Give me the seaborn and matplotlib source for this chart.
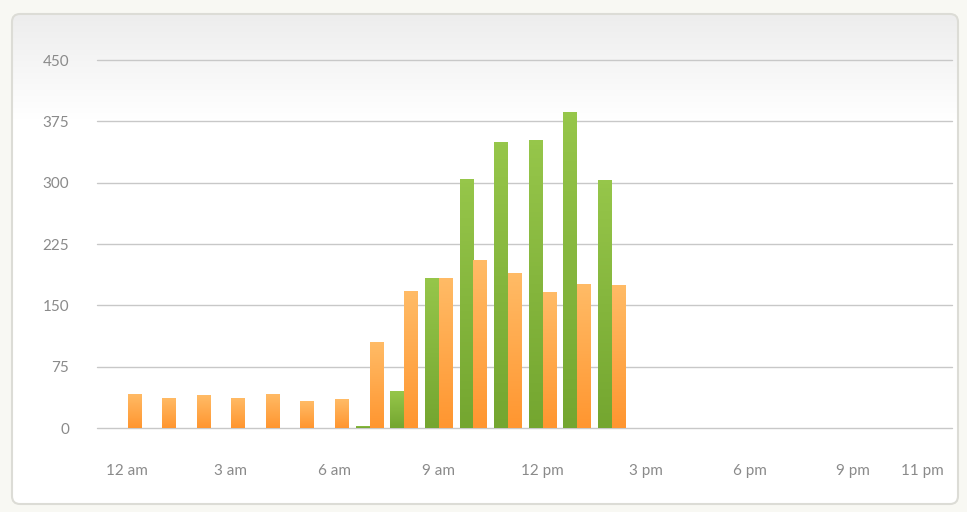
import numpy as np
import pandas as pd
import seaborn as sns
import matplotlib.pyplot as plt
from matplotlib.colors import LinearSegmentedColormap, to_hex
from matplotlib.patches import FancyBboxPatch

hours = list(range(24))
tick_hours = [0, 3, 6, 9, 12, 15, 18, 21, 23]
tick_labels = ["12 am", "3 am", "6 am", "9 am", "12 pm", "3 pm", "6 pm", "9 pm", "11 pm"]
green_vals = [0, 0, 0, 0, 0, 0, 0, 3, 45, 184, 304, 350, 352, 386, 303,
              0, 0, 0, 0, 0, 0, 0, 0, 0]
orange_vals = [42, 37, 40, 37, 42, 33, 35, 105, 168, 184, 205, 190, 166, 176, 175,
               0, 0, 0, 0, 0, 0, 0, 0, 0]
series = ["today", "average"]

df = pd.DataFrame({
    "hour": hours * 2,
    "value": green_vals + orange_vals,
    "series": [series[0]] * 24 + [series[1]] * 24,
})

sns.set_style("white")
plt.rcParams['font.family'] = ['Lato', 'DejaVu Sans']

fig = plt.figure(figsize=(9.67, 5.12), dpi=100, facecolor='#f8f8f3')

# card background, soft gray fading down from the top
bg = fig.add_axes([0, 0, 1, 1], zorder=-5)
bg.set_xlim(0, 967)
bg.set_ylim(512, 0)
bg.axis('off')
card = FancyBboxPatch((12, 14), 946, 490, boxstyle="round,pad=0,rounding_size=8",
                      facecolor='white', edgecolor='none')
bg.add_patch(card)
grad = np.linspace(0, 1, 100).reshape(-1, 1)
img = bg.imshow(grad, extent=(12, 958, 120, 14),
                cmap=LinearSegmentedColormap.from_list("g", ["#ededed", "#ffffff"]),
                aspect='auto', zorder=1)
img.set_clip_path(card)
bg.add_patch(FancyBboxPatch((12, 14), 946, 490, boxstyle="round,pad=0,rounding_size=8",
                            facecolor='none', edgecolor='#dcdcd6', linewidth=1.5, zorder=2))

ax = fig.add_axes([97 / 967, 84 / 512, 855 / 967, 368 / 512])
ax.patch.set_alpha(0)
green = "#86b83a"
orange = "#ffa640"
sns.barplot(data=df, x="hour", y="value", hue="series", order=hours,
            hue_order=series, palette=[green, orange], saturation=1,
            width=0.8, gap=0.06, dodge=True, ax=ax, legend=False,
            linewidth=0, errorbar=None)

# vertical gradient inside each bar
cmaps = {
    green: ["#96c64a", "#74a630"],
    orange: ["#ffbb66", "#ff9630"],
}
for p in list(ax.patches):
    h = p.get_height()
    if h <= 0:
        continue
    fc = to_hex(p.get_facecolor())
    cols = cmaps.get(fc, [fc, fc])
    cm = LinearSegmentedColormap.from_list("b", [cols[1], cols[0]])
    x0 = p.get_x()
    w = p.get_width()
    im = ax.imshow(np.linspace(0, 1, 64).reshape(-1, 1), extent=(x0, x0 + w, 0, h),
                   origin='lower', cmap=cm, aspect='auto', zorder=3)
    im.set_clip_path(p)

ax.set_xlim(-0.87, 23.85)
ax.set_ylim(0, 450)
ax.set_yticks([0, 75, 150, 225, 300, 375, 450])
ax.set_xticks(tick_hours)
ax.set_xticklabels(tick_labels)
ax.yaxis.grid(True, color='#c8c8c8', linewidth=1)
for gl in ax.get_ygridlines():
    gl.set_clip_on(False)
ax.set_axisbelow(True)
for s in ax.spines.values():
    s.set_visible(False)
ax.tick_params(axis='both', length=0, colors='#8a8a8a', labelsize=11)
ax.tick_params(axis='x', pad=26)
ax.tick_params(axis='y', pad=20)
ax.set_xlabel("")
ax.set_ylabel("")

plt.savefig("out.png", dpi=100, facecolor=fig.get_facecolor())
plt.close()
